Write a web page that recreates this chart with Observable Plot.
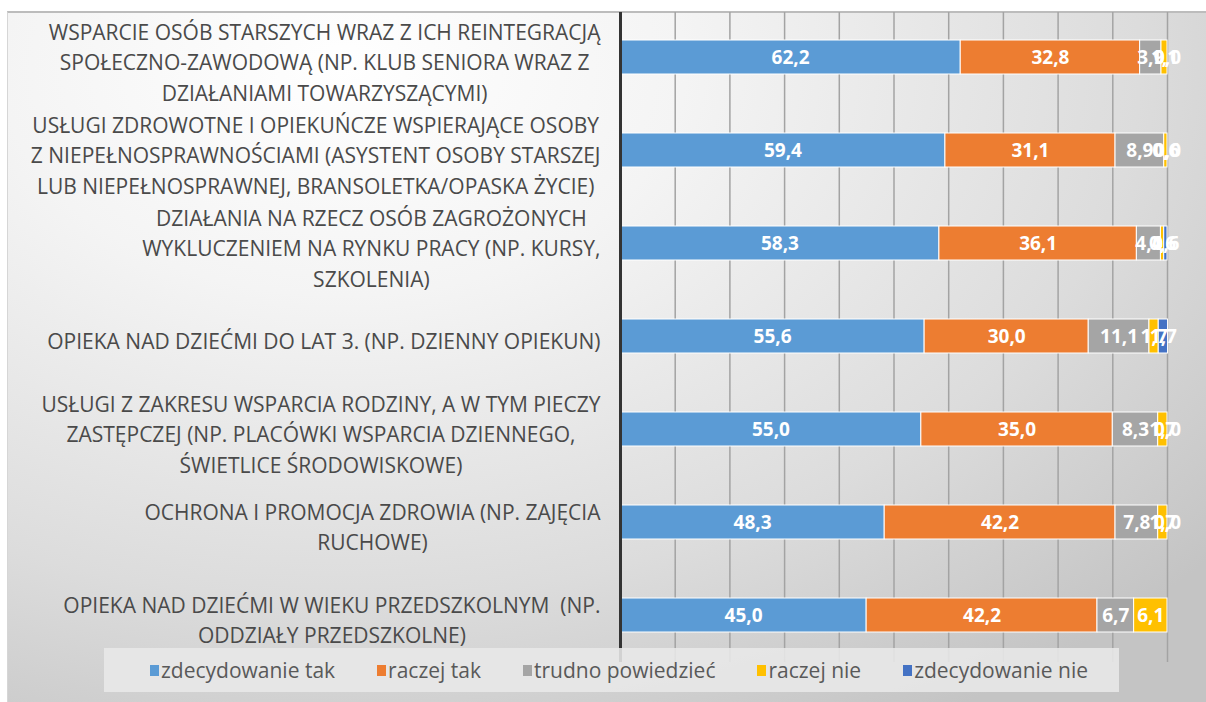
<!DOCTYPE html>
<html><head><meta charset="utf-8">
<script src="https://cdn.jsdelivr.net/npm/d3@7"></script>
<script src="https://cdn.jsdelivr.net/npm/@observablehq/plot@0.6"></script>
<style>
html,body{margin:0;padding:0;background:#fff;}
#wrap{position:relative;width:1206px;height:702px;overflow:hidden;}
#bg{position:absolute;left:7px;top:11px;right:0;bottom:0;border-top:2px solid #bcbcbc;border-left:1px solid #d6d6d6;
  background:radial-gradient(ellipse 95% 110% at 28% 8%, #ffffff 0%, #f4f4f4 30%, #dcdcdc 70%, #c4c4c4 100%);}
#chart{position:absolute;left:0;top:0;}
#legend{position:absolute;left:104px;top:648px;width:1015px;height:44px;background:rgba(232,232,232,0.88);
  display:flex;align-items:center;padding-left:46px;box-sizing:border-box;
  font-family:"Open Sans",sans-serif;font-size:21px;color:#595959;}
#legend .item{display:flex;align-items:center;margin-right:42px;white-space:nowrap;}
#legend .sw{width:9px;height:11px;margin-right:2px;}
</style></head>
<body><div id="wrap"><div id="bg"></div><div id="chart"></div><div id="legend"></div></div>
<script>
const categories = [
  "WSPARCIE OSÓB STARSZYCH WRAZ Z ICH REINTEGRACJĄ\nSPOŁECZNO-ZAWODOWĄ (NP. KLUB SENIORA WRAZ Z\nDZIAŁANIAMI TOWARZYSZĄCYMI)",
  "USŁUGI ZDROWOTNE I OPIEKUŃCZE WSPIERAJĄCE OSOBY\nZ NIEPEŁNOSPRAWNOŚCIAMI (ASYSTENT OSOBY STARSZEJ\nLUB NIEPEŁNOSPRAWNEJ, BRANSOLETKA/OPASKA ŻYCIE)",
  "DZIAŁANIA NA RZECZ OSÓB ZAGROŻONYCH\nWYKLUCZENIEM NA RYNKU PRACY (NP. KURSY,\nSZKOLENIA)",
  "OPIEKA NAD DZIEĆMI DO LAT 3. (NP. DZIENNY OPIEKUN)",
  "USŁUGI Z ZAKRESU WSPARCIA RODZINY, A W TYM PIECZY\nZASTĘPCZEJ (NP. PLACÓWKI WSPARCIA DZIENNEGO,\nŚWIETLICE ŚRODOWISKOWE)",
  "OCHRONA I PROMOCJA ZDROWIA (NP. ZAJĘCIA\nRUCHOWE)",
  "OPIEKA NAD DZIEĆMI W WIEKU PRZEDSZKOLNYM  (NP.\nODDZIAŁY PRZEDSZKOLNE)"
];
const answers = ["zdecydowanie tak", "raczej tak", "trudno powiedzieć", "raczej nie", "zdecydowanie nie"];
const colors = ["#5b9bd5", "#ed7d31", "#a5a5a5", "#ffc000", "#4472c4"];
const zdecydowanieTak = [62.2, 59.4, 58.3, 55.6, 55.0, 48.3, 45.0];
const raczejTak       = [32.8, 31.1, 36.1, 30.0, 35.0, 42.2, 42.2];
const trudnoPowiedziec= [3.9, 8.9, 4.4, 11.1, 8.3, 7.8, 6.7];
const raczejNie       = [1.1, 0.6, 0.6, 1.7, 1.7, 1.7, 6.1];
const zdecydowanieNie = [0.0, 0.0, 0.6, 1.7, 0.0, 0.0, null];
const xTicks = [0, 10, 20, 30, 40, 50, 60, 70, 80, 90, 100];

const series = [zdecydowanieTak, raczejTak, trudnoPowiedziec, raczejNie, zdecydowanieNie];
const data = [];
categories.forEach((c, i) => series.forEach((s, j) => {
  if (s[i] != null) data.push({category: c, answer: answers[j], value: s[i]});
}));
const fmt = v => v.toFixed(1).replace(".", ",");

const labelFontFamily = '"Open Sans", sans-serif';
const ctx = document.createElement("canvas").getContext("2d");
ctx.font = '21px ' + labelFontFamily;
const labelRight = 600, marginLeft = 620;

const labelMarks = categories.map(c => {
  const w = d3.max(c.split("\n"), l => ctx.measureText(l).width);
  return Plot.text([c], {
    y: d => d, text: d => d, frameAnchor: "left", textAnchor: "middle",
    dx: labelRight - w / 2 - marginLeft, dy: 3, lineHeight: 1.45,
    fontFamily: labelFontFamily, fontSize: 21, fill: "#4a4a4a"
  });
});

const stackOpts = {x: "value", y: "category", z: "answer", order: answers};
const chart = Plot.plot({
  width: 1206, height: 662, marginLeft, marginRight: 39, marginTop: 10, marginBottom: 0,
  style: {background: "transparent", overflow: "visible"},
  x: {domain: [0, 100], axis: null},
  y: {domain: categories, axis: null, paddingInner: 0.635, paddingOuter: 0.3175},
  color: {domain: answers, range: colors},
  marks: [
    Plot.ruleX(xTicks.slice(1), {stroke: "#a3a3a3", strokeWidth: 1.5, insetTop: 2}),
    ...labelMarks,
    Plot.barX(data.filter(d => d.value > 0), Plot.stackX({...stackOpts, fill: "answer", stroke: "white", strokeWidth: 1})),
    Plot.text(data, Plot.stackX({...stackOpts, text: d => fmt(d.value), fill: "white",
      fontFamily: labelFontFamily, fontWeight: "bold", fontSize: 19})),
    Plot.ruleX([0], {stroke: "#333", strokeWidth: 3, insetTop: 2})
  ]
});
document.getElementById("chart").appendChild(chart);

const legend = document.getElementById("legend");
answers.forEach((a, i) => {
  const it = document.createElement("div"); it.className = "item";
  const sw = document.createElement("div"); sw.className = "sw"; sw.style.background = colors[i];
  const t = document.createElement("span"); t.textContent = a;
  it.appendChild(sw); it.appendChild(t); legend.appendChild(it);
});
</script></body></html>
